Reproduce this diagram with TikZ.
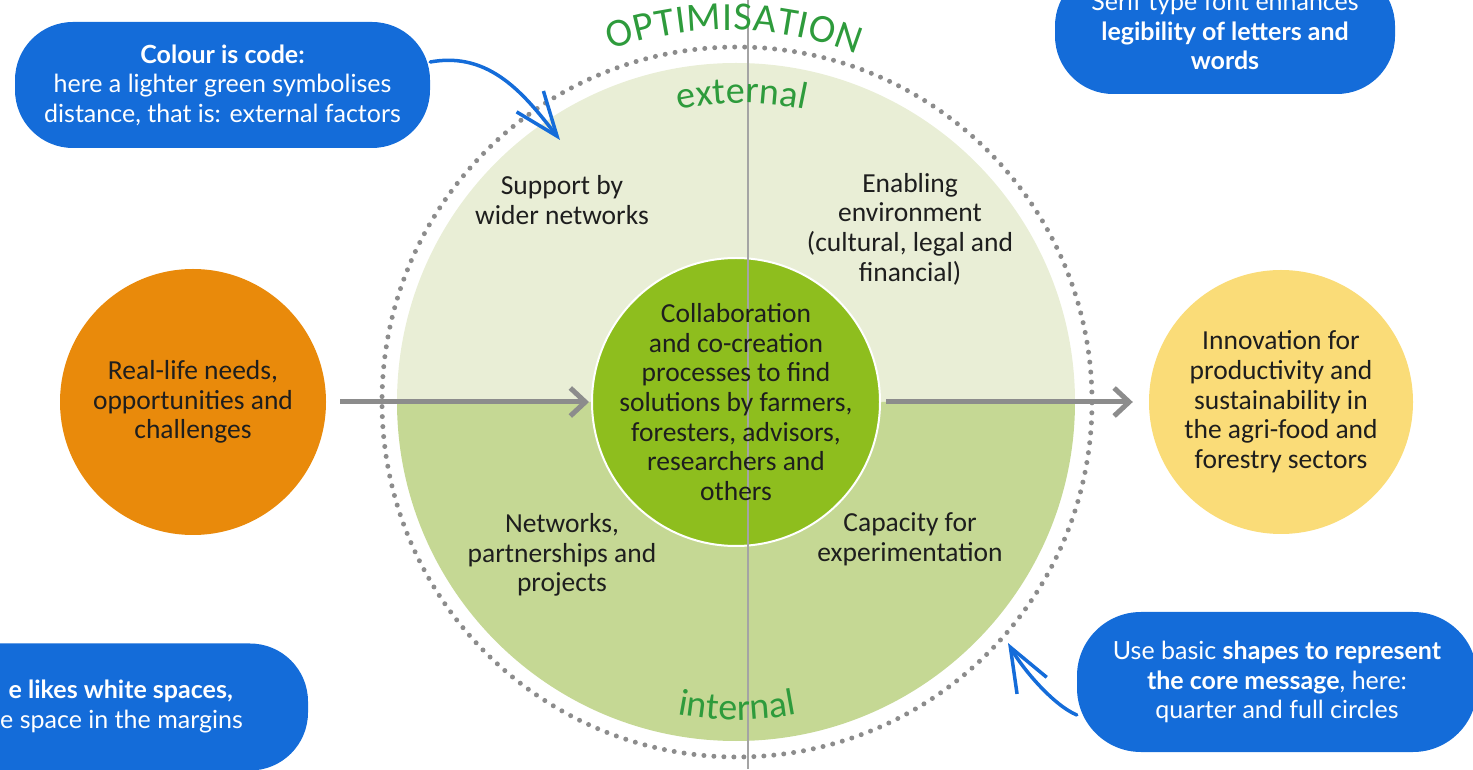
\documentclass[tikz,border=0pt]{standalone}
\usepackage{fontspec}
\setmainfont{Carlito}
\newfontfamily\tipfont{Lato}
\usepackage{tikz}
\usetikzlibrary{arrows.meta,decorations.text}

\definecolor{extgreen}{HTML}{E9EED6}
\definecolor{intgreen}{HTML}{C5D894}
\definecolor{coregreen}{HTML}{8EBE1E}
\definecolor{needorange}{HTML}{E98A0B}
\definecolor{innoyellow}{HTML}{FADC78}
\definecolor{tipblue}{HTML}{146CD9}
\definecolor{labelgreen}{HTML}{2E9B3C}
\definecolor{flowgray}{HTML}{8C8C8C}
\definecolor{axisgray}{HTML}{A4A4A4}
\definecolor{inktext}{HTML}{1E1E1E}

\begin{document}
\begin{tikzpicture}[x=1pt, y=1pt,
    every node/.style={font=\fontsize{27.5}{29.7}\selectfont, text=inktext},
    blob/.style={circle, inner sep=0pt, align=center},
    quarter/.style={align=center},
    flow/.style={draw=flowgray, line width=5pt, -{Straight Barb[length=15pt, width=28pt]}},
    tip/.style={fill=tipblue, text=white, align=center, font=\tipfont\fontsize{25}{29.5}\selectfont},
    pointer/.style={draw=tipblue, line width=3.5pt, line cap=round, -{Straight Barb[length=44pt, width=34pt]}}]
    \useasboundingbox (0,0) rectangle (1473,769);
    \clip (0,0) rectangle (1473,769);

    % dotted ring
    \draw[flowgray, line width=5pt, line cap=round, dash pattern=on 0pt off 10pt] (737,367) circle (355);

    % quarters
    \fill[extgreen] (736,367) ++(0:339) arc (0:180:339) -- cycle;
    \fill[intgreen] (736,367) ++(180:339) arc (180:360:339) -- cycle;

    % circles
    \node[blob, fill=needorange, minimum size=266pt] (needs) at (193,367)
        {Real-life needs,\\opportunities and\\challenges};
    \node[blob, fill=coregreen, draw=white, line width=2pt, minimum size=288pt] (core) at (736,367) {};
    \node[blob, fill=innoyellow, minimum size=264pt] (inno) at (1281,367)
        {Innovation for\\productivity and\\sustainability in\\the agri-food and\\forestry sectors};

    % axis
    \draw[axisgray, line width=2pt] (748,0) -- (748,769);

    % core text
    \node[quarter] (corelabel) at (core)
        {Collaboration\\and co-creation\\processes to find\\solutions by farmers,\\foresters, advisors,\\researchers and\\others};

    % quarter labels
    \node[quarter] (support) at (562,569) {Support by\\wider networks};
    \node[quarter] (enabling) at (910,540) {Enabling\\environment\\(cultural, legal and\\financial)};
    \node[quarter] (networks) at (562,214) {Networks,\\partnerships and\\projects};
    \node[quarter] (capacity) at (910,230) {Capacity for\\experimentation};

    % curved words
    \path[decorate, decoration={text along path, text color=labelgreen,
        text={|\fontsize{40}{40}\selectfont|OPTIMISATION}, text align={fit to path}}]
        (728,387) ++(109.5:352) arc (109.5:68.5:352);
    \path[decorate, decoration={text along path, text color=labelgreen,
        text={|\fontsize{38}{38}\selectfont|external}, text align=center}]
        (742,367) ++(115:299) arc (115:65:299);
    \path[decorate, decoration={text along path, text color=labelgreen,
        text={|\fontsize{38}{38}\selectfont|internal}, text align=center}]
        (737,367) ++(245:318) arc (245:295:318);

    % flow arrows
    \draw[flow, shorten <=14pt, shorten >=2pt] (needs) -- (core);
    \draw[flow, shorten <=5pt, shorten >=16pt] (core) -- (inno);

    % callouts
    \node[tip, minimum width=415pt, minimum height=126pt, rounded corners=58pt] (colourtip) at (222.5,684)
        {\textbf{Colour is code:}\\here a lighter green symbolises\\distance, that is: external factors};
    \node[tip, minimum width=340pt, minimum height=126pt, rounded corners=58pt] (seriftip) at (1225,738)
        {Serif type font enhances\\\textbf{legibility of letters and}\\\textbf{words}};
    \node[tip, minimum width=448pt, minimum height=127pt, rounded corners=58pt] (spacetip) at (84,62) {};
    \node[tip, fill=none, inner sep=0pt, anchor=base east] (spacebold) at (233,71) {\textbf{e likes white spaces,}};
    \node[tip, fill=none, inner sep=0pt, anchor=base east] (spacereg) at (243,41) {e space in the margins};
    \node[tip, minimum width=400pt, minimum height=140pt, rounded corners=64pt] (shapetip) at (1277,87)
        {Use basic \textbf{shapes to represent}\\\textbf{the core message}, here:\\quarter and full circles};

    % pointers
    \coordinate (ringnw) at (560,629);
    \coordinate (ringse) at (1008,126);
    \draw[pointer] ([yshift=23pt]colourtip.east) .. controls (490,718) and (525,674) .. (ringnw);
    \draw[pointer] ([yshift=-33pt]shapetip.west) .. controls (1053,64) and (1022,101) .. (ringse);
\end{tikzpicture}
\end{document}
